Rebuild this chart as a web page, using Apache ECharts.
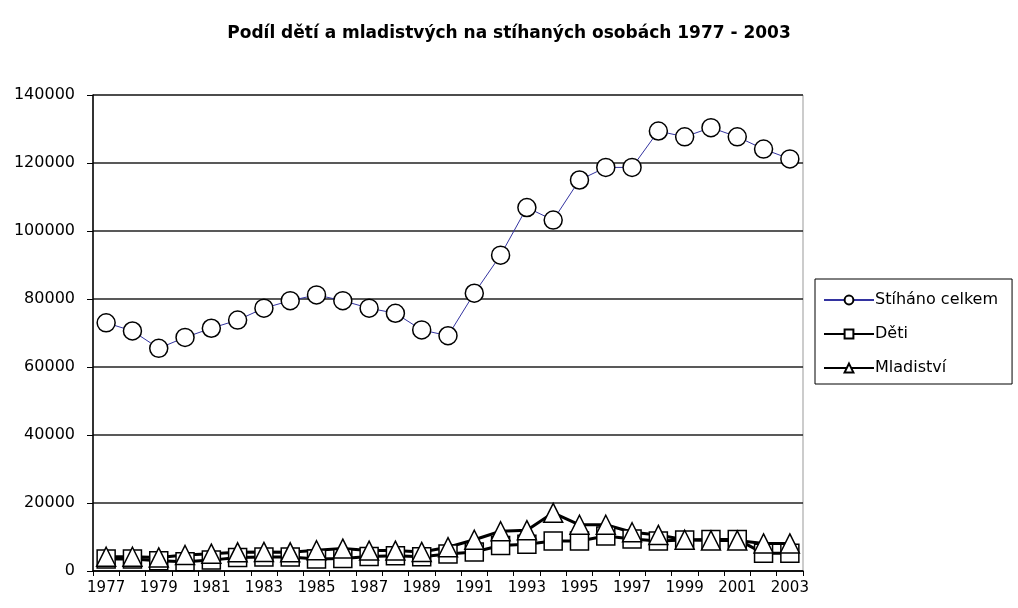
<!DOCTYPE html>
<html>
<head>
<meta charset="utf-8">
<script src="https://cdn.jsdelivr.net/npm/echarts@6/dist/echarts.min.js"></script>
<style>
  html, body { margin: 0; padding: 0; background: #fff; }
  #chart { width: 1018px; height: 608px; }
</style>
</head>
<body>
<div id="chart"></div>
<script>
const years = ['1977','1978','1979','1980','1981','1982','1983','1984','1985','1986','1987','1988','1989','1990',
  '1991','1992','1993','1994','1995','1996','1997','1998','1999','2000','2001','2002','2003'];

// Stíháno celkem
const celkem = [73000, 70600, 65500, 68700, 71400, 73800, 77300, 79500, 81200, 79500, 77300, 75800, 70900, 69200,
  81700, 92900, 106900, 103200, 115000, 118700, 118700, 129400, 127700, 130400, 127700, 124100, 121200];
// Děti
const deti = [3500, 3500, 3000, 2700, 3200, 4000, 4100, 4100, 3500, 3700, 4300, 4500, 4200, 5000,
  5600, 7500, 7900, 8800, 8800, 10300, 9400, 8800, 9100, 9300, 9300, 5200, 5200];
// Mladiství
const mladistvi = [4200, 4200, 4000, 4700, 5100, 5500, 5600, 5500, 6100, 6600, 6000, 6000, 5600, 7000,
  9200, 11700, 12000, 17100, 13600, 13600, 11400, 10600, 9200, 9000, 9000, 8100, 8100];

const yTicks = { min: 0, max: 140000, step: 20000 };

const myChart = echarts.init(document.getElementById('chart'));
const font = '"DejaVu Sans", Verdana, sans-serif';

const option = {
  animation: false,
  backgroundColor: '#fff',
  title: {
    text: 'Podíl dětí a mladistvých na stíhaných osobách 1977 - 2003',
    left: 'center',
    top: 20,
    textStyle: { fontFamily: font, fontSize: 17, fontWeight: 'bold', color: '#000' }
  },
  legend: {
    orient: 'vertical',
    left: 815,
    top: 279,
    padding: [13, 14, 8, 8],
    itemGap: 18,
    itemWidth: 50,
    itemHeight: 11,
    borderColor: '#000',
    borderWidth: 1,
    textStyle: { fontFamily: font, fontSize: 16, color: '#000', padding: [0, 0, 0, -4] },
    data: ['Stíháno celkem', 'Děti', 'Mladiství']
  },
  grid: {
    left: 93, right: 215, top: 95, bottom: 37,
    show: true, borderColor: '#999', borderWidth: 1
  },
  xAxis: {
    type: 'category',
    data: years,
    boundaryGap: true,
    axisLine: { lineStyle: { color: '#000', width: 1.5 } },
    axisTick: { show: true, interval: 0, length: 5, lineStyle: { color: '#000' } },
    axisLabel: { interval: 1, color: '#000', fontFamily: font, fontSize: 15, margin: 10 },
    splitLine: { show: false }
  },
  yAxis: {
    type: 'value',
    min: yTicks.min,
    max: yTicks.max,
    interval: yTicks.step,
    axisLine: { show: true, lineStyle: { color: '#000', width: 1.5 } },
    axisTick: { show: true, length: 6, lineStyle: { color: '#000' } },
    axisLabel: { color: '#000', fontFamily: font, fontSize: 16, margin: 18, formatter: v => String(v) },
    splitLine: { lineStyle: { color: '#222', width: 1.5 } }
  },
  series: [
    {
      name: 'Stíháno celkem',
      type: 'line',
      data: celkem,
      symbol: 'circle',
      symbolSize: 18,
      showAllSymbol: true,
      lineStyle: { color: '#3333a0', width: 1 },
      itemStyle: { color: '#fff', borderColor: '#000', borderWidth: 1.5 }
    },
    {
      name: 'Děti',
      type: 'line',
      data: deti,
      symbol: 'rect',
      symbolSize: 18,
      showAllSymbol: true,
      lineStyle: { color: '#000', width: 3 },
      itemStyle: { color: '#fff', borderColor: '#000', borderWidth: 1.5 }
    },
    {
      name: 'Mladiství',
      type: 'line',
      data: mladistvi,
      symbol: 'triangle',
      symbolSize: 19,
      showAllSymbol: true,
      lineStyle: { color: '#000', width: 3 },
      itemStyle: { color: '#fff', borderColor: '#000', borderWidth: 1.5 }
    }
  ]
};

option && myChart.setOption(option);
</script>
</body>
</html>
